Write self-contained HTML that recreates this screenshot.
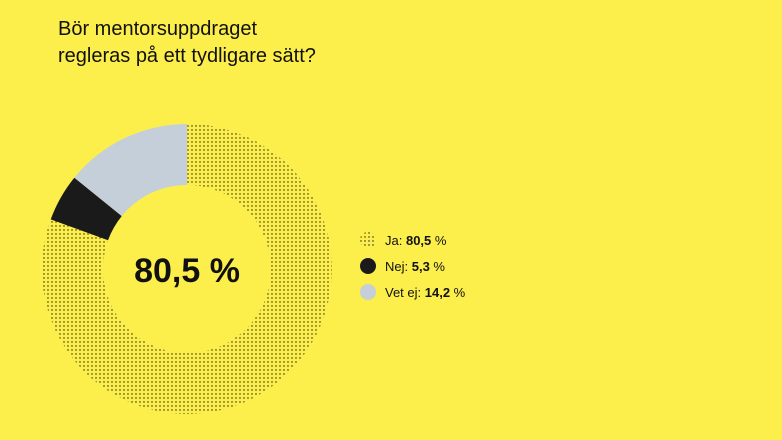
<!DOCTYPE html>
<html><head><meta charset="utf-8"><style>
html,body{margin:0;padding:0}
body{width:782px;height:440px;background:#FCEE4B;font-family:"Liberation Sans",sans-serif;overflow:hidden;position:relative;color:#111}
.t{position:absolute;left:58px;top:16px;font-size:20px;line-height:27px;font-weight:500}
</style></head><body>
<div class="t">Bör mentorsuppdraget<br>regleras på ett tydligare sätt?</div>
<svg width="782" height="440" style="position:absolute;left:0;top:0">
<defs>
<pattern id="d" width="4" height="4" patternUnits="userSpaceOnUse">
<circle cx="1" cy="1" r="0.7" fill="#1a1a1a"/>
</pattern>
</defs>
<g transform="translate(187,269)">
<path d="M0,-145 A145,145 0 1,1 -136.3,-49.6 L-79,-28.7 A84,84 0 1,0 0,-84 Z" fill="url(#d)"/>
<path d="M-112.7,-91.3 A145,145 0 0,1 0,-145 L0,-84 A84,84 0 0,0 -65.3,-52.9 Z" fill="#C5CFDA"/>
<path d="M-136.3,-49.6 A145,145 0 0,1 -112.7,-91.3 L-65.3,-52.9 A84,84 0 0,0 -79,-28.7 Z" fill="#1a1a1a"/>
<text x="0" y="13" text-anchor="middle" font-family="Liberation Sans" font-weight="bold" font-size="34" fill="#111">80,5 %</text>
</g>
<circle cx="368" cy="240" r="8" fill="url(#d)"/>
<circle cx="368" cy="266" r="8" fill="#1a1a1a"/>
<circle cx="368" cy="292" r="8" fill="#C5CFDA"/>
<g font-family="Liberation Sans" font-size="13" fill="#111">
<text x="385" y="245">Ja: <tspan font-weight="bold">80,5</tspan> %</text>
<text x="385" y="271">Nej: <tspan font-weight="bold">5,3</tspan> %</text>
<text x="385" y="297">Vet ej: <tspan font-weight="bold">14,2</tspan> %</text>
</g>
</svg>
</body></html>
